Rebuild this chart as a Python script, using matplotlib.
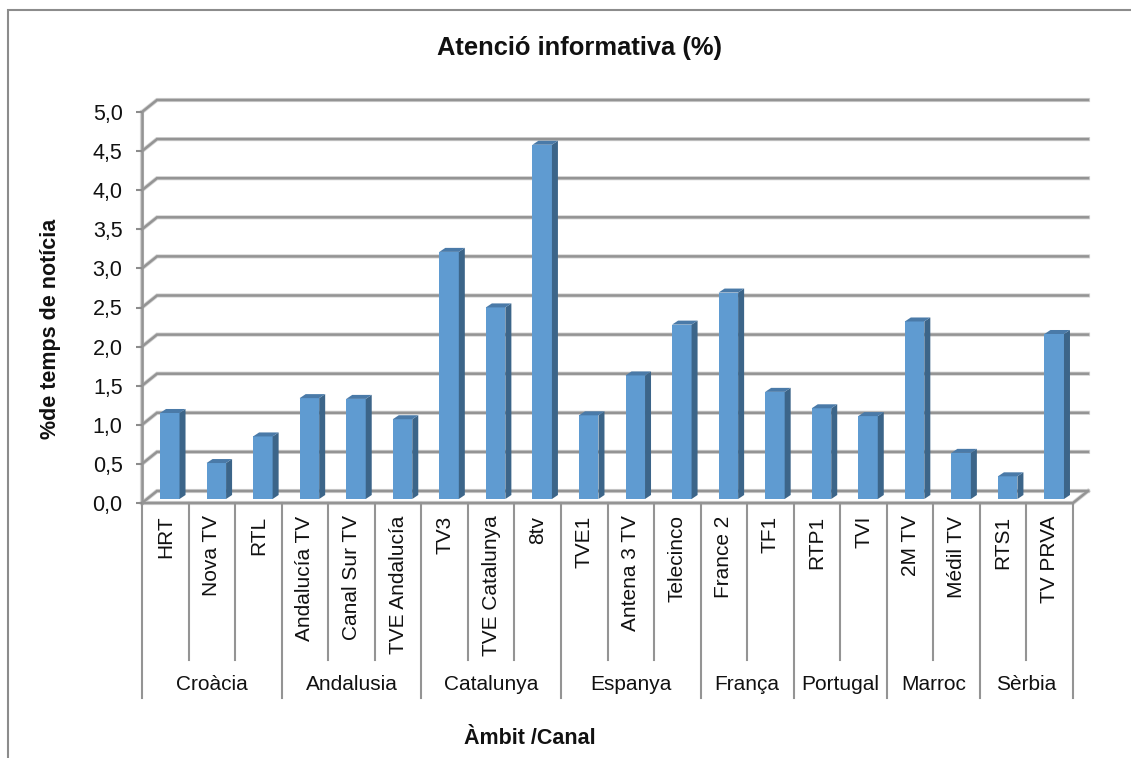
import matplotlib
matplotlib.use('AGG')
import matplotlib.pyplot as plt
from matplotlib.patches import Polygon, Rectangle

channels = ['HRT', 'Nova TV', 'RTL', 'Andalucía TV', 'Canal Sur TV', 'TVE Andalucía',
            'TV3', 'TVE Catalunya', '8tv', 'TVE1', 'Antena 3 TV', 'Telecinco',
            'France 2', 'TF1', 'RTP1', 'TVI', '2M TV', 'Médil TV', 'RTS1', 'TV PRVA']
values = [1.10, 0.46, 0.80, 1.29, 1.28, 1.02,
          3.16, 2.45, 4.53, 1.07, 1.58, 2.23,
          2.64, 1.37, 1.16, 1.06, 2.27, 0.59, 0.29, 2.11]
regions = ['Croàcia', 'Andalusia', 'Catalunya', 'Espanya', 'França', 'Portugal', 'Marroc', 'Sèrbia']
region_sizes = [3, 3, 3, 3, 2, 2, 2, 2]
y_ticks = [0, 0.5, 1, 1.5, 2, 2.5, 3, 3.5, 4, 4.5, 5]

W, H = 1131, 758
LINE = '#8c8c8c'
TEXT = '#111111'

plt.rcParams['font.family'] = ['Liberation Sans', 'DejaVu Sans']

fig = plt.figure(figsize=(W / 100, H / 100), dpi=100)

# Frame around the chart, cut off by the bottom of the image
fig.add_artist(Rectangle((8 / W, -0.05), 1200 / W, 1.05 - 10 / H, transform=fig.transFigure,
                         fill=False, edgecolor=LINE, linewidth=1.5))

# Front plane of the 3D box: 0..20 categories, 0..5 in value
ax = fig.add_axes([142 / W, 1 - 503 / H, 931 / W, 391 / H])
ax.set_xlim(0, 20)
ax.set_ylim(0, 5)
ax.patch.set_visible(False)
for s in ax.spines.values():
    s.set_visible(False)

px_x = 20 / 931
px_y = 5 / 391

# Depth of the back wall and of the bars
back_dx, back_dy = 15 * px_x, 12 * px_y
bar_off_x, bar_off_y = 4.5 * px_x, 4 * px_y
bar_w = 19.5 * px_x
side_dx, side_dy = 6 * px_x, 4 * px_y


def box_line(xs, ys):
    # Soft light halo with a darker core, like the blurred lines of the original
    ax.plot(xs, ys, color='#d4d4d4', lw=3.0, clip_on=False, zorder=1, solid_joinstyle='miter')
    ax.plot(xs, ys, color='#949494', lw=1.8, clip_on=False, zorder=1.1, solid_joinstyle='miter')


# Gridlines on the back wall with the slanted bit on the left side
for v in y_ticks:
    box_line([0, back_dx, 20 + back_dx], [v, v + back_dy, v + back_dy])
box_line([0, 0], [0, 5])
box_line([0, 20, 20 + back_dx], [0, 0, back_dy])

# Bars: front, side and top faces
for i, v in enumerate(values):
    left = i + (1 - bar_w) / 2 + bar_off_x
    right = left + bar_w
    ax.bar(left, v, width=bar_w, bottom=bar_off_y, align='edge', color='#5f9bd1', zorder=3, clip_on=False)
    top = v + bar_off_y
    ax.add_patch(Polygon([(right, bar_off_y), (right + side_dx, bar_off_y + side_dy),
                          (right + side_dx, top + side_dy), (right, top)],
                         color='#3c6589', lw=0, zorder=3, clip_on=False))
    ax.add_patch(Polygon([(left, top), (left + side_dx, top + side_dy),
                          (right + side_dx, top + side_dy), (right, top)],
                         color='#4a7aa8', lw=0, zorder=3, clip_on=False))

# Value axis
ax.set_yticks(y_ticks)
ax.set_yticklabels([f'{v:.1f}'.replace('.', ',') for v in y_ticks], fontsize=15.5, color=TEXT)
ax.tick_params(axis='y', length=4, width=1.5, color=LINE, pad=10)

# Channel labels, one per category
ax.set_xticks([i + 0.5 for i in range(len(channels))])
ax.set_xticklabels(channels, rotation=90, fontsize=15, color=TEXT, va='top', ha='center')
ax.tick_params(axis='x', length=0, pad=9)

# Separators under the axis: short ones between channels, long ones between regions
sep_short = 157 / 391 * 5
sep_long = 195 / 391 * 5
pos = 0
edges = [0]
for n in region_sizes:
    pos += n
    edges.append(pos)
for x in range(21):
    drop = sep_long if x in edges else sep_short
    ax.plot([x, x], [0, -drop], color='#949494', lw=1.5, clip_on=False, zorder=1)

# Region labels
for name, a, b in zip(regions, edges[:-1], edges[1:]):
    ax.text((a + b) / 2, -182 / 391 * 5, name, ha='center', va='center', fontsize=15, color=TEXT)

fig.text(579.5 / W, 1 - 48 / H, 'Atenció informativa (%)', ha='center', va='center',
         fontsize=18.4, fontweight='bold', color=TEXT)
fig.text(51 / W, 1 - 329 / H, '%de temps de notícia', ha='center', va='center', rotation=90,
         fontsize=15.5, fontweight='bold', color=TEXT)
fig.text(530 / W, 1 - 739 / H, 'Àmbit /Canal', ha='center', va='center',
         fontsize=15.5, fontweight='bold', color=TEXT)

fig.savefig('out.png', dpi=100)
